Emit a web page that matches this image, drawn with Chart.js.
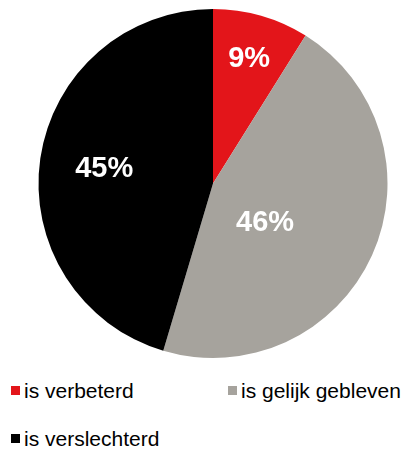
<!DOCTYPE html>
<html>
<head>
<meta charset="utf-8">
<script src="https://cdn.jsdelivr.net/npm/chart.js@4"></script>
<style>
  html, body { margin: 0; padding: 0; background: #fff; }
  #wrap { position: relative; width: 406px; height: 450px; font-family: "Liberation Sans", Arial, sans-serif; }
  #pie { position: absolute; left: 0; top: 0; }
  .lg { position: absolute; font-size: 21px; line-height: 20px; color: #000; white-space: nowrap; }
  .sw { position: absolute; width: 9px; height: 9px; }
</style>
</head>
<body>
<div id="wrap">
  <canvas id="pie" width="406" height="368"></canvas>
</div>
<script>
const categories = ['is verbeterd', 'is gelijk gebleven', 'is verslechterd'];
// shares as measured off the slice edges; shown rounded
const shares = [8.9, 45.7, 45.4];
const sliceColors = ['#E3151A', '#A6A39D', '#000000'];

// label placement inside each slice: fraction of radius, angle tweak in degrees
const labelPlace = [{ r: 0.75, da: 0 }, { r: 0.37, da: 12 }, { r: 0.63, da: 0 }];

const sliceLabels = {
  id: 'sliceLabels',
  afterDatasetsDraw(chart) {
    const ctx = chart.ctx;
    const arcs = chart.getDatasetMeta(0).data;
    ctx.save();
    ctx.fillStyle = '#fff';
    ctx.font = 'bold 29px "Liberation Sans", Arial, sans-serif';
    ctx.textAlign = 'center';
    ctx.textBaseline = 'middle';
    arcs.forEach((arc, i) => {
      const p = arc.getProps(['x', 'y', 'startAngle', 'endAngle', 'outerRadius'], true);
      const mid = (p.startAngle + p.endAngle) / 2 + labelPlace[i].da * Math.PI / 180;
      const rr = p.outerRadius * labelPlace[i].r;
      ctx.fillText(Math.round(shares[i]) + '%', p.x + Math.cos(mid) * rr, p.y + Math.sin(mid) * rr + 1);
    });
    ctx.restore();
  }
};

new Chart(document.getElementById('pie').getContext('2d'), {
  type: 'pie',
  data: {
    labels: categories,
    datasets: [{ data: shares, backgroundColor: sliceColors, borderWidth: 0 }]
  },
  options: {
    responsive: false,
    animation: false,
    layout: { padding: { top: 9, bottom: 10, left: 20, right: 0 } },
    plugins: { legend: { display: false }, tooltip: { enabled: false } }
  },
  plugins: [sliceLabels]
});

// legend, two columns like the original
const wrap = document.getElementById('wrap');
categories.forEach((name, i) => {
  const col = i % 2, row = Math.floor(i / 2);
  const left = col ? 228 : 11;
  const sw = document.createElement('div');
  sw.className = 'sw';
  sw.style.background = sliceColors[i];
  sw.style.left = left + 'px';
  sw.style.top = (386 + row * 48) + 'px';
  wrap.appendChild(sw);
  const t = document.createElement('div');
  t.className = 'lg';
  t.textContent = name;
  t.style.left = (left + 13) + 'px';
  t.style.top = (381 + row * 48) + 'px';
  wrap.appendChild(t);
});
</script>
</body>
</html>
